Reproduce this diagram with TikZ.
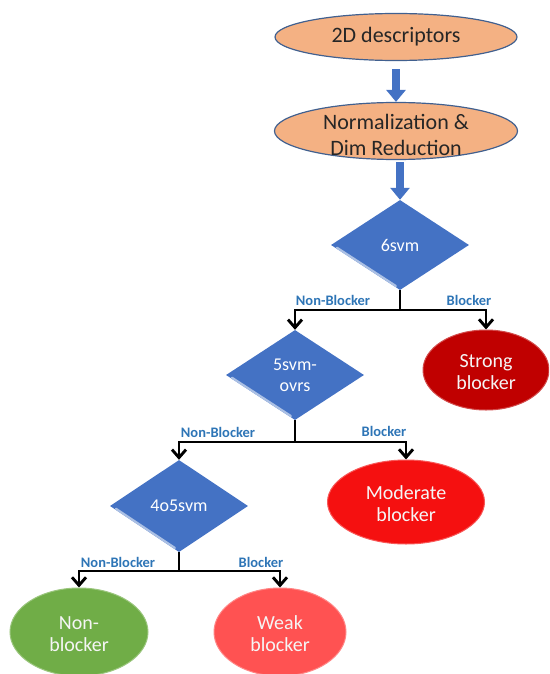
\documentclass[tikz,border=0pt]{standalone}
\usepackage{fontspec}
\setmainfont{Carlito}
\usetikzlibrary{shapes.geometric,arrows.meta,calc}
\definecolor{peach}{HTML}{F4B183}
\definecolor{edgeblue}{HTML}{41608F}
\definecolor{diam}{HTML}{4472C4}
\definecolor{arrowblue}{HTML}{4472C4}
\definecolor{lblue}{HTML}{2E75B6}
\definecolor{strongred}{HTML}{C00000}
\definecolor{modred}{HTML}{F51010}
\definecolor{weakred}{HTML}{FF5252}
\definecolor{nbgreen}{HTML}{70AD47}
\tikzset{
  oval/.style={ellipse, inner sep=0pt},
  ovaltext/.style={align=center, text=white!96!black, inner sep=0pt, font=\fontsize{20}{22}\selectfont},
  toptext/.style={align=center, text=black!85, inner sep=0pt, font=\fontsize{22}{26}\selectfont},
  decision/.style={diamond, inner sep=0pt, minimum width=138pt, minimum height=92pt, fill=diam, text=white, font=\fontsize{18}{21}\selectfont, align=center},
  bevel/.style={white!55!diam, line width=2.2pt, line cap=round},
  conn/.style={line width=2.9pt, black, -{Straight Barb[length=8pt,width=14pt]}},
  trunk/.style={line width=2.9pt, black},
  blabel/.style={font=\bfseries\fontsize{14.5}{16}\selectfont, text=lblue, inner sep=0pt},
  blockarrow/.style={arrowblue, line width=8.5pt, -{Triangle[length=12pt,width=19pt]}},
}
\begin{document}
\begin{tikzpicture}[x=1pt,y=-1pt]
\useasboundingbox (0,0) rectangle (549,674);
\clip (0,0) rectangle (549,674);

% top ellipses
\node[oval, fill=peach, draw=edgeblue, line width=1.2pt, minimum width=242pt, minimum height=47pt] (desc) at (396,37) {};
\node[toptext] (desct) at (desc.center) {2D descriptors};
\node[oval, fill=peach, draw=edgeblue, line width=1.2pt, minimum width=243pt, minimum height=57pt] (norm) at (396,131) {};
\node[toptext] (normt) at (396,135) {Normalization \&\\Dim Reduction};

% decisions
\node[decision, minimum height=90pt] (d6) at (400,245) {6svm};
\node[decision, minimum height=90pt] (d5) at (295,375) {5svm-\\ovrs};
\node[decision] (d4) at (179,506) {4o5svm};
\foreach \d in {d6,d5,d4}{
  \draw[bevel] ($(\d.west)!0.06!(\d.south)+(2pt,0)$) -- ($(\d.west)!0.94!(\d.south)+(0,1.5pt)$);
}

% outcome ellipses
\node[oval, fill=strongred, draw=strongred!70!white, line width=1pt, minimum width=126pt, minimum height=80pt] (strong) at (486,370) {};
\node[ovaltext] (strongt) at (486,372) {Strong\\blocker};
\node[oval, fill=modred, draw=modred!70!white, line width=1pt, minimum width=157pt, minimum height=84pt] (mod) at (406,502) {};
\node[ovaltext] (modt) at (406,504) {Moderate\\blocker};
\node[oval, fill=nbgreen, draw=nbgreen!70!white, line width=1pt, minimum width=138pt, minimum height=88pt] (nonb) at (79,632) {};
\node[ovaltext] (nonbt) at (79,634) {Non-\\blocker};
\node[oval, fill=weakred, draw=weakred!70!white, line width=1pt, minimum width=132pt, minimum height=88pt] (weak) at (280,632) {};
\node[ovaltext] (weakt) at (280,634) {Weak\\blocker};

% block arrows
\draw[blockarrow, shorten <=8pt] (desc.south) -- (norm.north);
\draw[blockarrow, shorten <=2pt] (norm.south -| d6.north) -- (d6.north);

% branch points
\coordinate (b6) at (400,310);
\coordinate (b5) at (295,442);
\coordinate (b4) at (179,571);

\draw[trunk] (d6.south) -- (b6);
\draw[conn] (b6) -| (d5.north);
\draw[conn] (b6) -| (strong.north);
\draw[trunk] (d5.south) -- (b5);
\draw[conn] (b5) -| (d4.north);
\draw[conn] (b5) -| (mod.north);
\draw[trunk] (d4.south) -- (b4);
\draw[conn] (b4) -| (nonb.north);
\draw[conn] (b4) -| (weak.north);

% branch labels
\node[blabel] (l6n) at (333,300) {Non-Blocker};
\node[blabel] (l6b) at (469,300) {Blocker};
\node[blabel] (l5n) at (218,432) {Non-Blocker};
\node[blabel] (l5b) at (384,431) {Blocker};
\node[blabel] (l4n) at (118,562) {Non-Blocker};
\node[blabel] (l4b) at (261,562) {Blocker};
\end{tikzpicture}
\end{document}
